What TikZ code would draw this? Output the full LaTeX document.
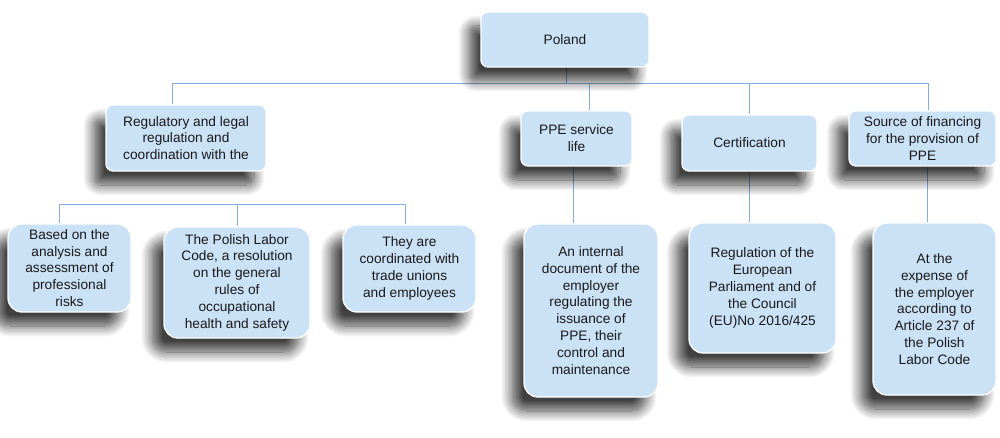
\documentclass[tikz,border=0pt]{standalone}
\usepackage{fontspec}
\setmainfont{Liberation Sans}
\usetikzlibrary{shadows.blur,calc,backgrounds}
\definecolor{boxfill}{RGB}{203,225,246}
\definecolor{linkblue}{RGB}{128,176,230}
\definecolor{txt}{RGB}{25,25,25}
\tikzset{
  card/.style={draw=white, line width=1.3pt, fill=boxfill, align=center,
    text=txt, inner sep=2pt,
    font=\fontsize{13.7pt}{16.8pt}\selectfont,
    blur shadow={shadow xshift=-12pt, shadow yshift=-14pt,
      shadow blur radius=11pt, shadow blur steps=14, shadow opacity=75}},
  topcard/.style={card, rounded corners=7pt},
  leafcard/.style={card, rounded corners=14pt},
  link/.style={draw=linkblue, line width=0.9pt}
}
\begin{document}
\begin{tikzpicture}[x=1pt,y=-1pt]
\useasboundingbox (0,0) rectangle (1000,438);

% cards, placed by centre with fixed sizes
\node[topcard, minimum width=168pt, minimum height=55pt] (poland) at (565,39.5) {Poland};
\node[topcard, minimum width=160pt, minimum height=66pt] (reg) at (186,138)
  {Regulatory and legal\\regulation and\\coordination with the};
\node[topcard, minimum width=111pt, minimum height=55pt] (ppe) at (576.5,138.5)
  {PPE service\\life};
\node[topcard, minimum width=135pt, minimum height=56pt] (cert) at (749.5,143)
  {Certification};
\node[topcard, minimum width=147pt, minimum height=55pt] (src) at (922.5,138.5)
  {Source of financing\\for the provision of\\PPE};
\node[leafcard, minimum width=123pt, minimum height=88pt] (risk) at (69.5,268)
  {Based on the\\analysis and\\assessment of\\professional\\risks};
\node[leafcard, minimum width=146pt, minimum height=111pt] (code) at (237,282.5)
  {The Polish Labor\\Code, a resolution\\on the general\\rules of\\occupational\\health and safety};
\node[leafcard, minimum width=133pt, minimum height=87pt] (unions) at (409.5,268.5)
  {They are\\coordinated with\\trade unions\\and employees};
\node[leafcard, minimum width=134pt, minimum height=173pt] (internal) at (591,310.5)
  {An internal\\document of the\\employer\\regulating the\\issuance of\\PPE, their\\control and\\maintenance};
\node[leafcard, minimum width=147pt, minimum height=130pt] (eureg) at (762.5,288)
  {Regulation of the\\European\\Parliament and of\\the Council\\(EU)No 2016/425};
\node[leafcard, minimum width=123pt, minimum height=172pt] (expense) at (934.5,309)
  {At the\\expense of\\the employer\\according to\\Article 237 of\\the Polish\\Labor Code};

% bus lines and drop points
\coordinate (busL) at (172,83);
\coordinate (busR) at (928,83);
\coordinate (subL) at (59,204);
\coordinate (subR) at (405,204);
\coordinate (rootDrop) at ($(poland.south)+(1,0)$);
\coordinate (ppeDrop) at (589,83);
\coordinate (ppeLow) at ($(ppe.south)+(-3.5,0)$);
\coordinate (srcLow) at ($(src.south)+(4.5,0)$);

% links sit behind the cards, so the shadows fall over them
\begin{scope}[on background layer]
  \draw[link] (rootDrop) -- (rootDrop |- busL);
  \draw[link] (busL) -- (busR);
  \draw[link] (busL) -- (busL |- reg.north);
  \draw[link] (ppeDrop) -- (ppeDrop |- ppe.north);
  \draw[link] (cert.north |- busL) -- (cert.north);
  \draw[link] (busR) -- (busR |- src.north);
  \draw[link] (ppeLow) -- (ppeLow |- internal.north);
  \draw[link] (cert.south) -- (cert.south |- eureg.north);
  \draw[link] (srcLow) -- (srcLow |- expense.north);
  \draw[link] (subL) -- (subR);
  \draw[link] (subL) -- (subL |- risk.north);
  \draw[link] (code.north |- subL) -- (code.north);
  \draw[link] (subR) -- (subR |- unions.north);
\end{scope}
\end{tikzpicture}
\end{document}
